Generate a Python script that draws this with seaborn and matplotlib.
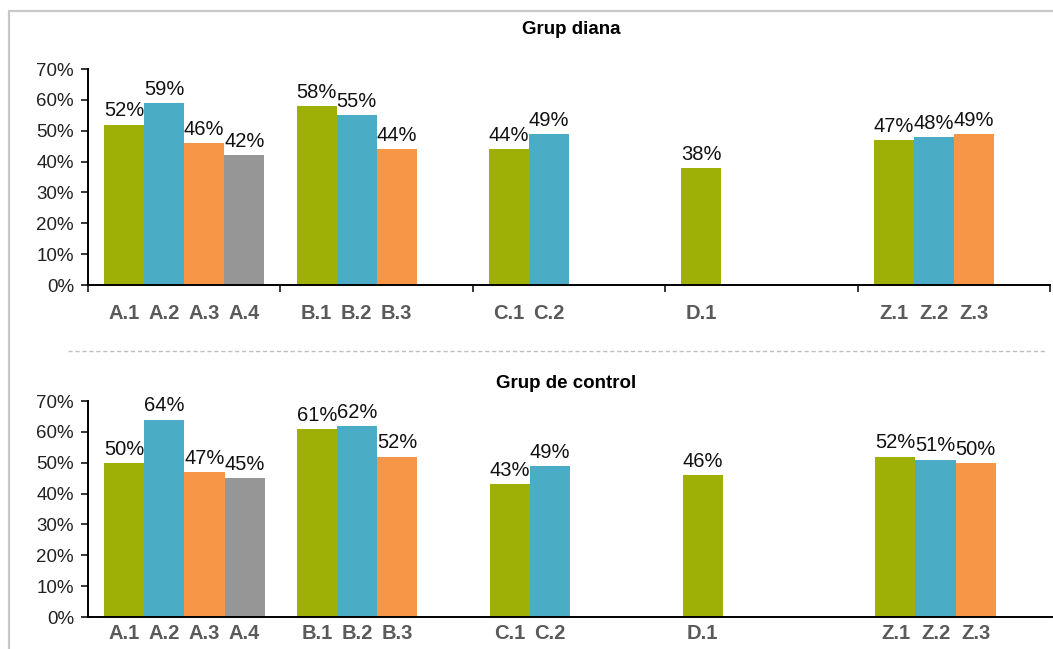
import matplotlib
matplotlib.use("Agg")
import matplotlib.pyplot as plt
from matplotlib.lines import Line2D
from matplotlib.ticker import FixedLocator
import pandas as pd
import seaborn as sns

# Item groups and the sub-items present in each group
groups = ["A", "B", "C", "D", "Z"]
items = {"A": [1, 2, 3, 4], "B": [1, 2, 3], "C": [1, 2], "D": [1], "Z": [1, 2, 3]}

# Share of correct answers per sub-item (fraction)
diana_values = {
    "A": [0.52, 0.59, 0.46, 0.42],
    "B": [0.58, 0.55, 0.44],
    "C": [0.44, 0.49],
    "D": [0.38],
    "Z": [0.47, 0.48, 0.49],
}
control_values = {
    "A": [0.50, 0.64, 0.47, 0.45],
    "B": [0.61, 0.62, 0.52],
    "C": [0.43, 0.49],
    "D": [0.46],
    "Z": [0.52, 0.51, 0.50],
}

panel_titles = ["Grup diana", "Grup de control"]
y_ticks = [0.0, 0.1, 0.2, 0.3, 0.4, 0.5, 0.6, 0.7]
series_order = [1, 2, 3, 4]
series_colors = ["#9EAF05", "#4BACC6", "#F79646", "#969696"]


def to_frame(values):
    rows = []
    for g in groups:
        for sub, v in zip(items[g], values[g]):
            rows.append({"group": g, "item": sub, "value": v})
    return pd.DataFrame(rows)


sns.set_style("white")
plt.rcParams["font.family"] = ["Liberation Sans", "DejaVu Sans"]

W, H = 1053, 649
fig = plt.figure(figsize=(W / 100, H / 100), dpi=100)


def fx(px):
    return px / W


def fy(py):
    return 1 - py / H


# axes boxes: (left px, right px, top px of 70%, bottom px of 0%)
boxes = [(88, 1050, 69, 285), (88, 1052, 401, 617)]
label_pads = [14, 5]
title_y = [30, 383]
title_x = [571, 566]

for k, (values, box) in enumerate(zip([diana_values, control_values], boxes)):
    l, r, t, b = box
    ax = fig.add_axes([fx(l), fy(b), fx(r - l), (b - t) / H])
    df = to_frame(values)
    sns.barplot(
        data=df, x="group", y="value", hue="item",
        order=groups, hue_order=series_order,
        palette=series_colors, width=0.832, gap=0,
        errorbar=None, legend=False, saturation=1, ax=ax,
        linewidth=0,
    )
    ax.set_xlim(-0.5, len(groups) - 0.5)
    ax.set_ylim(0, 0.7)
    ax.set_yticks(y_ticks)
    ax.set_yticklabels([f"{v * 100:.0f}%" for v in y_ticks])
    ax.set_xlabel("")
    ax.set_ylabel("")

    # value labels and one category label under each bar
    centers, names = [], []
    for hue_level, cont in zip(series_order, ax.containers):
        ax.bar_label(cont, labels=[f"{v * 100:.0f}%" for v in cont.datavalues],
                     padding=3, fontsize=14.5, color="#111111")
        for bar in cont:
            cx = bar.get_x() + bar.get_width() / 2
            centers.append(cx)
            names.append(f"{groups[int(round(cx))]}.{hue_level}")
    order = sorted(range(len(centers)), key=lambda i: centers[i])
    ax.set_xticks([centers[i] for i in order])
    ax.set_xticklabels([names[i] for i in order], fontsize=14.5,
                       fontweight="bold", color="#5A5A5A")
    ax.tick_params(axis="x", which="major", length=0, pad=label_pads[k])

    if k == 0:
        ax.xaxis.set_minor_locator(FixedLocator([i - 0.5 for i in range(len(groups) + 1)]))
        ax.tick_params(axis="x", which="minor", length=5, width=1.1,
                       direction="out", color="black", bottom=True)
    ax.tick_params(axis="y", which="major", length=5, width=1.1, direction="out",
                   color="black", labelsize=13.5, labelcolor="#222222", pad=5, left=True)

    for side in ["top", "right"]:
        ax.spines[side].set_visible(False)
    for side in ["left", "bottom"]:
        ax.spines[side].set_color("black")
        ax.spines[side].set_linewidth(1.4)

    fig.text(fx(title_x[k]), fy(title_y[k]), panel_titles[k], ha="center",
             va="center", fontsize=13.5, fontweight="bold", color="black")

# dashed separator between the two panels
fig.add_artist(Line2D([fx(68), fx(1045)], [fy(351), fy(351)], color="#BFBFBF",
                      linewidth=1, linestyle=(0, (3, 2)), transform=fig.transFigure))
# outer frame (top and left edges)
fig.add_artist(Line2D([fx(9), fx(1053)], [fy(11), fy(11)], color="#C8C8C8",
                      linewidth=1.6, transform=fig.transFigure))
fig.add_artist(Line2D([fx(9), fx(9)], [fy(11), fy(649)], color="#C8C8C8",
                      linewidth=1.6, transform=fig.transFigure))

fig.savefig("out.png", dpi=100)
